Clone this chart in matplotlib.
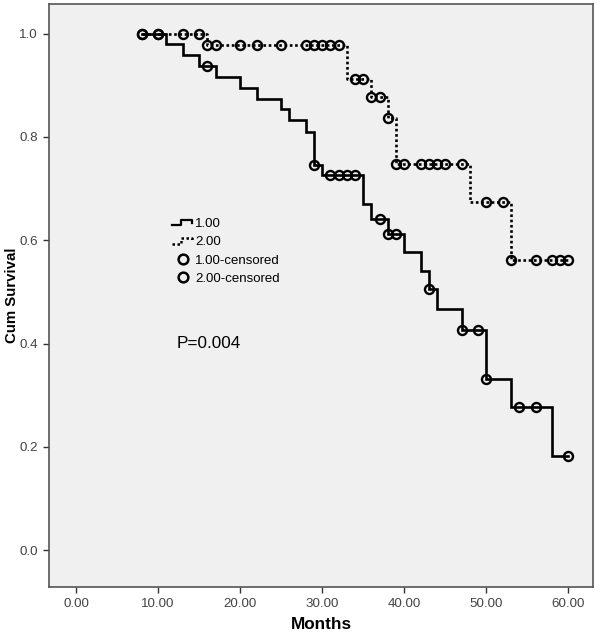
import matplotlib
matplotlib.use("Agg")
import matplotlib.pyplot as plt
import numpy as np
from matplotlib.legend_handler import HandlerBase
from matplotlib.lines import Line2D

plt.rcParams["font.family"] = ["Liberation Sans", "DejaVu Sans"]

# group 1.00 (solid): event times and survival after each event
times_1 = [11, 13, 15, 17, 20, 22, 25, 26, 28, 29, 30, 35, 36, 38, 40, 42, 43, 44, 47, 50, 53, 58]
surv_1 = [0.979, 0.958, 0.938, 0.916, 0.894, 0.874, 0.853, 0.832, 0.810, 0.745, 0.726,
          0.671, 0.642, 0.613, 0.578, 0.541, 0.505, 0.467, 0.427, 0.332, 0.277, 0.183]
censored_1 = [8, 10, 16, 29, 31, 32, 33, 34, 37, 38, 39, 43, 47, 49, 50, 54, 56, 60]

# group 2.00 (dotted)
times_2 = [16, 33, 36, 38, 39, 48, 53]
surv_2 = [0.978, 0.912, 0.877, 0.836, 0.747, 0.674, 0.562]
censored_2 = [8, 10, 13, 15, 16, 17, 20, 22, 25, 28, 29, 30, 31, 32, 34, 35, 36, 37, 38,
              39, 40, 42, 43, 44, 45, 47, 50, 52, 53, 56, 58, 59, 60]

start_time = 8
end_time = 60
x_ticks = [0, 10, 20, 30, 40, 50, 60]
y_ticks = [0.0, 0.2, 0.4, 0.6, 0.8, 1.0]
p_text = "P=0.004"


def step_points(times, surv):
    xs = [start_time] + list(times) + [end_time]
    ys = [1.0] + list(surv) + [surv[-1]]
    return xs, ys


def censor_levels(times, surv, cens):
    levels = np.concatenate([[1.0], surv])
    idx = np.searchsorted(times, cens, side="right")
    return levels[idx]


class StepHandler(HandlerBase):
    # small step-shaped icon like the SPSS legend
    def create_artists(self, legend, orig_handle, xdescent, ydescent,
                       width, height, fontsize, trans):
        x0 = -xdescent
        y0 = -ydescent
        xs = [x0, x0 + width * 0.45, x0 + width * 0.45, x0 + width * 0.95, x0 + width * 0.95]
        ys = [y0 + height * 0.2, y0 + height * 0.2, y0 + height * 0.8, y0 + height * 0.8, y0 + height * 0.5]
        line = Line2D(xs, ys)
        self.update_prop(line, orig_handle, legend)
        line.set_transform(trans)
        return [line]


fig = plt.figure(figsize=(6.0, 6.35), dpi=100)
ax = fig.add_axes([0.0817, 0.0756, 0.9066, 0.918])
ax.set_facecolor("#f0f0f0")

xs1, ys1 = step_points(times_1, surv_1)
xs2, ys2 = step_points(times_2, surv_2)

ax.step(xs1, ys1, where="post", color="black", lw=1.9, solid_joinstyle="miter")
ax.step(xs2, ys2, where="post", color="black", lw=1.9, linestyle=(0, (1, 1)))

c1 = censor_levels(times_1, surv_1, censored_1)
c2 = censor_levels(times_2, surv_2, censored_2)
ax.plot(censored_1, c1, "o", ms=6.5, mfc="none", mec="black", mew=1.7)
ax.plot(censored_2, c2, "o", ms=6.5, mfc="none", mec="black", mew=1.7)

ax.set_xlim(-3.3, 63.0)
ax.set_ylim(-0.071, 1.057)
ax.set_xticks(x_ticks)
ax.set_xticklabels([f"{t:.2f}" for t in x_ticks])
ax.set_yticks(y_ticks)
ax.set_yticklabels([f"{t:.1f}" for t in y_ticks])
ax.tick_params(direction="out", length=4.5, width=1, colors="#333333",
               labelsize=9.6, labelcolor="#444444")
for s in ax.spines.values():
    s.set_color("#555555")
    s.set_linewidth(1.2)

ax.set_xlabel("Months", fontsize=12.3, fontweight="bold")
ax.set_ylabel("Cum Survival", fontsize=10.8, fontweight="bold")
ax.xaxis.set_label_coords(0.5, -0.0635)
ax.yaxis.set_label_coords(-0.068, 0.5)
ax.xaxis.label.set_va("center")
ax.yaxis.label.set_va("center")

ax.text(12.2, 0.40, p_text, fontsize=12.3, va="center", ha="left")

h1 = Line2D([], [], color="black", lw=1.6)
h2 = Line2D([], [], color="black", lw=1.8, linestyle=(0, (1, 1)))
h3 = Line2D([], [], color="black", lw=0, marker="o", ms=7, mfc="none", mew=1.8)
h4 = Line2D([], [], color="black", lw=0, marker="o", ms=7, mfc="none", mew=1.8)
ax.legend([h1, h2, h3, h4], ["1.00", "2.00", "1.00-censored", "2.00-censored"],
          handler_map={h1: StepHandler(), h2: StepHandler()},
          loc="upper left", bbox_to_anchor=(0.226, 0.633), frameon=False,
          fontsize=9.5, handlelength=1.6, handletextpad=0.15, labelspacing=0.45,
          borderaxespad=0, borderpad=0)

fig.savefig("out.png", dpi=100, facecolor="white")
